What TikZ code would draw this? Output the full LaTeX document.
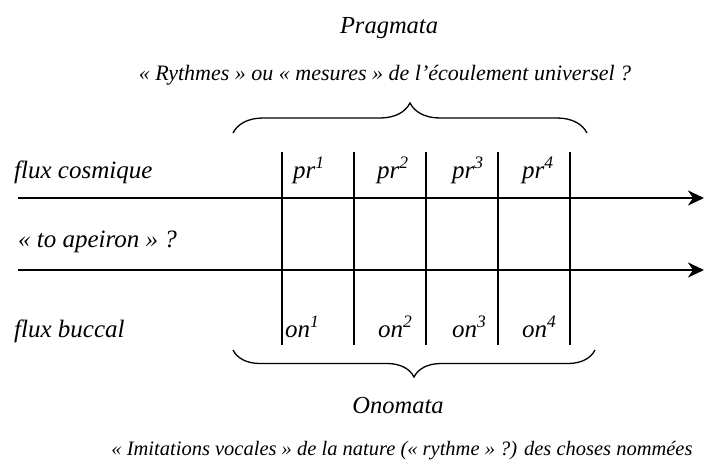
\documentclass[tikz,border=0pt]{standalone}
\usepackage{fontspec}
\setmainfont{Liberation Serif}
\usetikzlibrary{arrows.meta,decorations.pathreplacing}
\begin{document}
\begin{tikzpicture}[x=1pt,y=-1pt,
  lbl/.style={inner sep=0pt, font=\fontsize{25}{28}\selectfont\itshape},
  big/.style={inner sep=0pt, font=\fontsize{24.5}{28}\selectfont\itshape},
  sub/.style={inner sep=0pt, font=\fontsize{22}{25}\selectfont\itshape},
  subb/.style={inner sep=0pt, font=\fontsize{20.5}{24}\selectfont\itshape},
  flow/.style={line width=2.6pt, -{Stealth[length=16pt,width=15pt,inset=5pt]}},
  sep/.style={line width=1.3pt},
  bracepath/.style={line width=1.3pt, decorate, decoration={brace, amplitude=30pt}}]
\useasboundingbox (0,0) rectangle (704,466);
% titles
\node[big, anchor=base] (prag) at (389,33) {Pragmata};
\node[sub, anchor=base] (pragsub) at (385,80) {«~Rythmes~» ou «~mesures~» de l’écoulement universel~?};
% braces
\coordinate (tbl) at (233,133);
\coordinate (tbr) at (587,133);
\draw[bracepath] (tbl) -- (tbr);
\coordinate (bbl) at (233,350);
\coordinate (bbr) at (595,350);
\draw[bracepath, decoration={brace, amplitude=27pt}] (bbr) -- (bbl);
% row labels
\node[lbl, anchor=base west] (fc) at (14,178) {flux cosmique};
\node[lbl, anchor=base west] (ta) at (18,247) {«~to apeiron~»~?};
\node[lbl, anchor=base west] (fb) at (14,337) {flux buccal};
% flows
\coordinate (a1s) at (18,198);
\coordinate (a1e) at (704,198);
\coordinate (a2s) at (18,270);
\coordinate (a2e) at (704,270);
\draw[flow] (a1s) -- (a1e);
\draw[flow] (a2s) -- (a2e);
% separators
\foreach \i/\x in {1/282,2/354,3/426,4/498,5/570}{
  \coordinate (t\i) at (\x,152);
  \coordinate (b\i) at (\x,345);
  \draw[sep] (t\i) -- (b\i);
}
% cell labels
\node[lbl, anchor=base west] (pr1) at (293,178) {pr\textsuperscript{1}};
\node[lbl, anchor=base west] (pr2) at (377,178) {pr\textsuperscript{2}};
\node[lbl, anchor=base west] (pr3) at (452,178) {pr\textsuperscript{3}};
\node[lbl, anchor=base west] (pr4) at (522,178) {pr\textsuperscript{4}};
\node[lbl, anchor=base west] (on1) at (285,337) {on\textsuperscript{1}};
\node[lbl, anchor=base west] (on2) at (378,337) {on\textsuperscript{2}};
\node[lbl, anchor=base west] (on3) at (452,337) {on\textsuperscript{3}};
\node[lbl, anchor=base west] (on4) at (522,337) {on\textsuperscript{4}};
% bottom titles
\node[big, anchor=base] (onom) at (398,413) {Onomata};
\node[subb, anchor=base] (onomsub) at (402,455) {«~Imitations vocales~» de la nature («~rythme~»~?) des choses nommées};
\end{tikzpicture}
\end{document}
